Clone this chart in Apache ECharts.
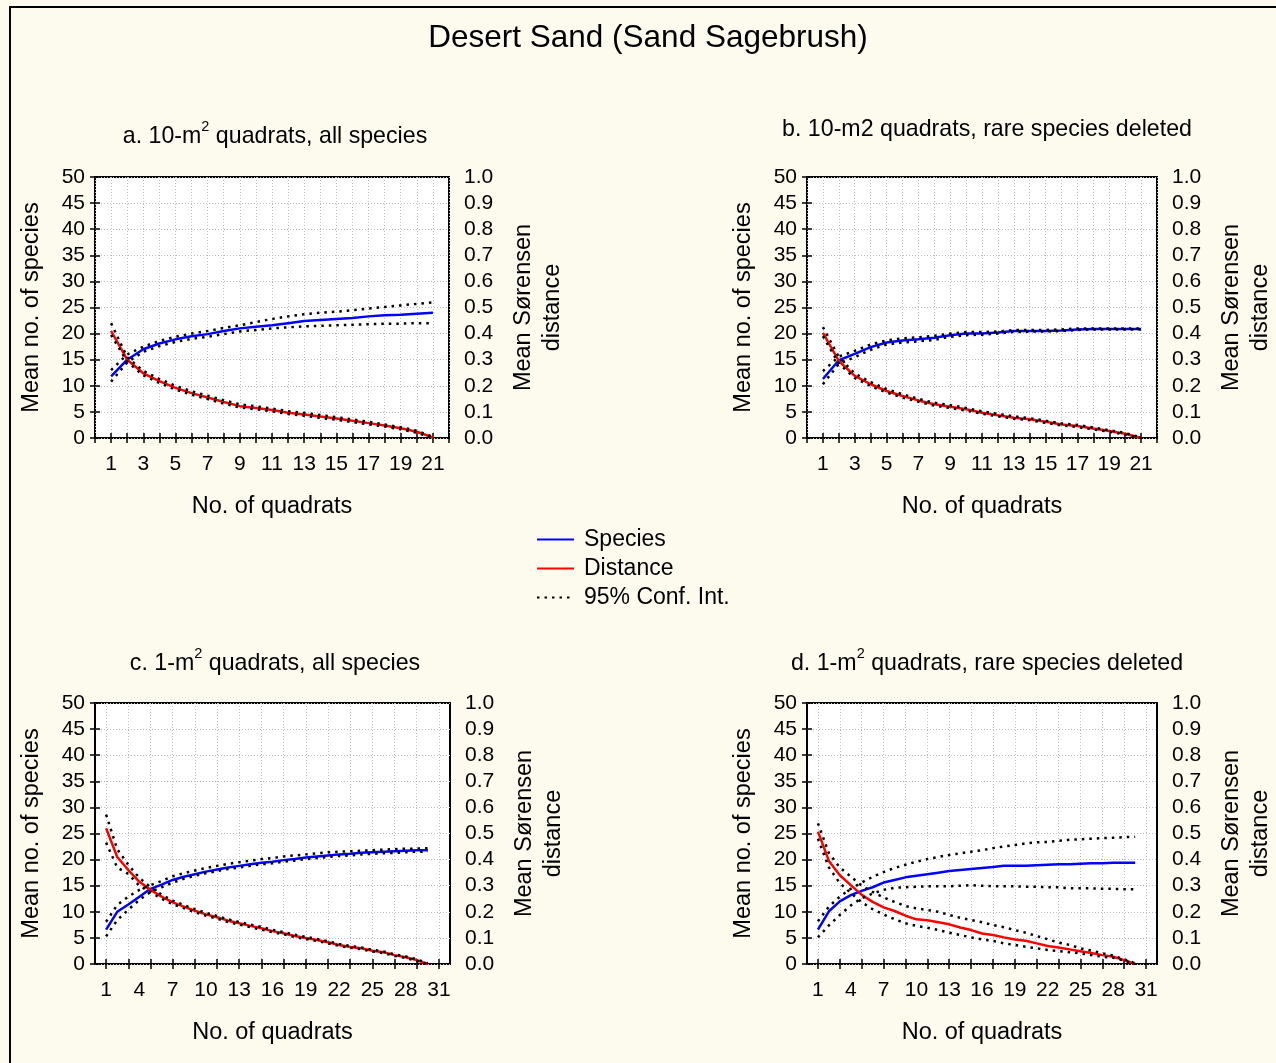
<!DOCTYPE html>
<html><head><meta charset="utf-8">
<script src="https://cdn.jsdelivr.net/npm/echarts@6.0.0/dist/echarts.min.js"></script>
<style>html,body{margin:0;padding:0;background:#FDFAEE;}#chart{width:1276px;height:1063px;}</style>
</head><body><div id="chart"></div>
<script>
// ---------- data ----------
const quadratsAB = [1,2,3,4,5,6,7,8,9,10,11,12,13,14,15,16,17,18,19,20,21];
const quadratsCD = [1,2,3,4,5,6,7,8,9,10,11,12,13,14,15,16,17,18,19,20,21,22,23,24,25,26,27,28,29,30];
const xLabelsAB = [1,3,5,7,9,11,13,15,17,19,21];
const xTicksCD = [1,3,5,7,9,11,13,15,17,19,21,23,25,27,29,31];
const xLabelsCD = [1,4,7,10,13,16,19,22,25,28,31];

// panel a: 10-m2 quadrats, all species
const speciesA  = [11.8,15.0,17.0,18.1,18.9,19.5,19.9,20.5,21.0,21.3,21.6,22.0,22.4,22.6,22.8,23.0,23.3,23.5,23.6,23.8,24.0];
const speciesAU = [13.0,16.0,17.5,18.6,19.4,20.0,20.5,21.1,21.6,22.2,22.8,23.3,23.7,24.0,24.2,24.5,24.8,25.1,25.4,25.7,26.0];
const speciesAL = [10.8,14.5,16.5,17.6,18.4,19.0,19.4,19.9,20.4,20.7,21.0,21.2,21.4,21.5,21.6,21.7,21.8,21.9,21.9,22.0,22.0];
const distA  = [0.41,0.30,0.248,0.218,0.192,0.172,0.155,0.138,0.122,0.115,0.107,0.097,0.09,0.082,0.075,0.066,0.057,0.048,0.037,0.024,0.002];
const distAU = [0.44,0.31,0.257,0.226,0.2,0.179,0.162,0.145,0.129,0.121,0.113,0.103,0.096,0.088,0.08,0.071,0.062,0.052,0.041,0.028,0.004];
const distAL = [0.395,0.292,0.24,0.211,0.186,0.166,0.149,0.132,0.117,0.11,0.102,0.092,0.085,0.077,0.07,0.061,0.052,0.044,0.033,0.02,0.0];

// panel b: 10-m2 quadrats, rare species deleted
const speciesB  = [11.3,14.9,16.1,17.4,18.3,18.7,18.9,19.2,19.7,20.0,20.0,20.2,20.5,20.5,20.5,20.6,20.8,20.9,20.9,20.9,20.9];
const speciesBU = [12.8,15.6,16.7,17.9,18.7,19.1,19.3,19.6,20.0,20.3,20.3,20.4,20.7,20.7,20.7,20.8,21.0,21.0,21.0,21.0,21.0];
const speciesBL = [10.3,14.2,15.5,16.9,17.9,18.3,18.5,18.8,19.4,19.7,19.8,20.0,20.3,20.4,20.4,20.5,20.7,20.8,20.8,20.8,20.8];
const distB  = [0.403,0.295,0.238,0.206,0.18,0.161,0.144,0.129,0.12,0.11,0.097,0.087,0.078,0.072,0.062,0.052,0.046,0.036,0.027,0.016,0.0];
const distBU = [0.425,0.31,0.247,0.214,0.187,0.168,0.15,0.135,0.126,0.115,0.102,0.092,0.083,0.076,0.066,0.056,0.05,0.04,0.03,0.019,0.002];
const distBL = [0.39,0.285,0.23,0.199,0.174,0.155,0.139,0.124,0.115,0.105,0.093,0.083,0.074,0.068,0.058,0.048,0.042,0.033,0.024,0.013,0.0];

// panel c: 1-m2 quadrats, all species
const speciesC  = [6.6,10.0,11.4,12.9,14.4,15.2,16.1,16.7,17.2,17.7,18.1,18.5,18.8,19.1,19.4,19.6,19.9,20.1,20.4,20.6,20.8,21.0,21.1,21.3,21.4,21.5,21.6,21.7,21.8,21.8];
const speciesCU = [8.1,11.3,12.9,14.2,15.1,15.9,16.8,17.4,17.9,18.4,18.8,19.2,19.5,19.8,20.1,20.3,20.6,20.8,21.0,21.2,21.4,21.5,21.6,21.7,21.8,21.9,22.0,22.1,22.1,22.2];
const speciesCL = [5.3,8.4,10.4,12.3,13.8,14.7,15.6,16.3,16.9,17.4,17.8,18.2,18.5,18.8,19.1,19.3,19.6,19.8,20.1,20.3,20.5,20.7,20.8,21.0,21.1,21.2,21.3,21.4,21.5,21.5];
const distC  = [0.52,0.41,0.36,0.315,0.284,0.258,0.236,0.22,0.204,0.19,0.179,0.166,0.156,0.146,0.137,0.126,0.118,0.107,0.1,0.092,0.083,0.073,0.065,0.06,0.051,0.045,0.034,0.026,0.015,0.0];
const distCU = [0.572,0.44,0.38,0.33,0.294,0.266,0.243,0.226,0.21,0.196,0.184,0.171,0.161,0.151,0.142,0.131,0.122,0.112,0.104,0.096,0.087,0.077,0.069,0.063,0.055,0.048,0.037,0.029,0.018,0.003];
const distCL = [0.465,0.37,0.345,0.30,0.275,0.25,0.229,0.214,0.198,0.185,0.174,0.161,0.151,0.141,0.132,0.122,0.114,0.103,0.096,0.088,0.079,0.07,0.062,0.057,0.048,0.042,0.031,0.023,0.012,0.0];

// panel d: 1-m2 quadrats, rare species deleted
const speciesD  = [6.6,10.1,12.0,13.2,14.0,14.7,15.6,16.1,16.6,16.9,17.2,17.5,17.8,18.0,18.2,18.4,18.6,18.8,18.8,18.8,18.9,19.0,19.1,19.1,19.2,19.3,19.3,19.4,19.4,19.4];
const speciesDU = [8.2,11.0,12.9,14.4,15.6,16.7,17.6,18.4,19.0,19.6,20.1,20.5,20.9,21.2,21.5,21.8,22.2,22.5,22.8,23.1,23.3,23.4,23.6,23.8,23.9,24.0,24.1,24.2,24.3,24.4];
const speciesDL = [5.1,7.4,9.4,11.2,12.6,13.5,14.2,14.6,14.7,14.8,14.9,14.9,14.9,15.0,15.1,15.0,14.9,14.9,14.9,14.8,14.8,14.7,14.7,14.5,14.5,14.5,14.4,14.4,14.3,14.3];
const distD  = [0.507,0.395,0.34,0.302,0.265,0.238,0.217,0.203,0.185,0.171,0.168,0.160,0.152,0.140,0.130,0.117,0.111,0.102,0.094,0.089,0.079,0.069,0.063,0.056,0.049,0.042,0.034,0.028,0.015,0.0];
const distDU = [0.539,0.425,0.37,0.335,0.3,0.276,0.255,0.238,0.222,0.213,0.207,0.2,0.188,0.177,0.169,0.16,0.149,0.141,0.13,0.12,0.107,0.095,0.082,0.073,0.06,0.051,0.041,0.032,0.018,0.003];
const distDL = [0.48,0.37,0.31,0.272,0.237,0.21,0.19,0.172,0.156,0.146,0.139,0.13,0.12,0.111,0.102,0.094,0.089,0.079,0.073,0.066,0.06,0.054,0.05,0.045,0.041,0.034,0.028,0.024,0.013,0.0];

const mainTitle = 'Desert Sand (Sand Sagebrush)';
const panelTitles = [
  ['a. 10-m', '2', ' quadrats, all species'],
  ['b. 10-m2 quadrats, rare species deleted'],
  ['c. 1-m', '2', ' quadrats, all species'],
  ['d. 1-m', '2', ' quadrats, rare species deleted']
];

// ---------- layout ----------
const FONT = '"Liberation Sans", Arial, sans-serif';
const grids = [
  {left: 95,  top: 177, width: 354, height: 261},
  {left: 807, top: 177, width: 356, height: 261},
  {left: 95,  top: 703, width: 355, height: 261},
  {left: 807, top: 703, width: 356, height: 261}
];
const titlePos = [[270, 114], [982, 112], [270, 641], [982, 641]];

const panels = [
  {x: quadratsAB, xMax: 22, ticks: null, labels: xLabelsAB, s: speciesA, su: speciesAU, sl: speciesAL, d: distA, du: distAU, dl: distAL},
  {x: quadratsAB, xMax: 22, ticks: null, labels: xLabelsAB, s: speciesB, su: speciesBU, sl: speciesBL, d: distB, du: distBU, dl: distBL},
  {x: quadratsCD, xMax: 32, ticks: xTicksCD, labels: xLabelsCD, s: speciesC, su: speciesCU, sl: speciesCL, d: distC, du: distCU, dl: distCL},
  {x: quadratsCD, xMax: 32, ticks: xTicksCD, labels: xLabelsCD, s: speciesD, su: speciesDU, sl: speciesDL, d: distD, du: distDU, dl: distDL}
];

const tickStyle = {show: true, inside: true, length: 5, lineStyle: {color: '#000', width: 1.5}};
const gridLine = {show: true, lineStyle: {color: '#bdbdbd', type: [1, 2], width: 1}};
const labelStyle = {color: '#000', fontSize: 21, fontFamily: FONT};
const nameStyle = {color: '#000', fontSize: 23.5, fontFamily: FONT};
const dotStyle = {color: '#000', width: 2.5, type: [2.5, 5], cap: 'butt'};

const xAxes = [], yAxes = [], series = [], titles = [];
titles.push({text: mainTitle, left: 643, top: 17, textAlign: 'center',
  textStyle: {fontSize: 31.5, fontWeight: 'normal', color: '#000', fontFamily: FONT}});

const pair = (xs, ys) => xs.map((x, i) => [x, ys[i]]);

panels.forEach((p, k) => {
  const pt = panelTitles[k];
  let txt;
  if (pt.length === 3) txt = '{n|' + pt[0] + '}{s|' + pt[1] + '}{n|' + pt[2] + '}';
  else txt = '{n|' + pt[0] + '}';
  titles.push({text: txt, left: titlePos[k][0], top: titlePos[k][1] + (pt.length === 3 ? 0 : -5), textAlign: 'center',
    textStyle: {fontWeight: 'normal', rich: {
      n: {fontSize: 23.2, fontWeight: 'normal', color: '#000', fontFamily: FONT, lineHeight: 29, verticalAlign: 'bottom'},
      s: {fontSize: 14.5, fontWeight: 'normal', color: '#000', fontFamily: FONT, lineHeight: 14, verticalAlign: 'top'}
    }}});

  const xBase = {type: 'value', gridIndex: k, min: 0, max: p.xMax};
  const tick = Object.assign({}, tickStyle);
  if (p.ticks) tick.customValues = p.ticks; else xBase.interval = 1;
  xAxes.push(Object.assign({}, xBase, {
    position: 'bottom',
    axisLine: {show: false},
    axisTick: tick,
    splitLine: gridLine,
    axisLabel: Object.assign({customValues: p.labels, margin: 16}, labelStyle),
    name: 'No. of quadrats', nameLocation: 'middle', nameGap: 57, nameTextStyle: nameStyle
  }));
  xAxes.push(Object.assign({}, xBase, {
    position: 'top',
    axisLine: {show: false},
    axisTick: tick,
    splitLine: {show: false},
    axisLabel: {show: false}
  }));
  yAxes.push({type: 'value', gridIndex: k, min: 0, max: 50, interval: 5, position: 'left',
    axisLine: {show: false}, axisTick: tickStyle, splitLine: gridLine,
    axisLabel: Object.assign({margin: 10}, labelStyle),
    name: 'Mean no. of species', nameLocation: 'middle', nameRotate: 90, nameGap: 51, nameTextStyle: nameStyle});
  yAxes.push({type: 'value', gridIndex: k, min: 0, max: 1, interval: 0.1, position: 'right',
    axisLine: {show: false}, axisTick: tickStyle, splitLine: {show: false},
    axisLabel: Object.assign({margin: 15, formatter: v => v.toFixed(1)}, labelStyle),
    name: 'Mean Sørensen\ndistance', nameLocation: 'middle', nameRotate: 90, nameGap: 60,
    nameTextStyle: Object.assign({lineHeight: 29}, nameStyle)});

  const xi = 2 * k, yl = 2 * k, yr = 2 * k + 1;
  const base = {type: 'line', xAxisIndex: xi, symbol: 'none', smooth: false, silent: true};
  series.push(Object.assign({}, base, {name: 'Species', yAxisIndex: yl, data: pair(p.x, p.s),
    lineStyle: {color: '#0000ff', width: 2.5}, itemStyle: {color: '#0000ff'}, z: 2}));
  series.push(Object.assign({}, base, {name: 'Distance', yAxisIndex: yr, data: pair(p.x, p.d),
    lineStyle: {color: '#ff0000', width: 2.5}, itemStyle: {color: '#ff0000'}, z: 2}));
  [[yl, p.su], [yl, p.sl], [yr, p.du], [yr, p.dl]].forEach(([ya, arr]) => {
    series.push(Object.assign({}, base, {name: '95% Conf. Int.', yAxisIndex: ya, data: pair(p.x, arr),
      lineStyle: dotStyle, itemStyle: {color: '#000'}, z: 3}));
  });
});

const chart = echarts.init(document.getElementById('chart'), null, {renderer: 'canvas'});
chart.setOption({
  backgroundColor: '#FDFAEE',
  animation: false,
  title: titles,
  grid: grids.map(g => Object.assign({show: true, backgroundColor: '#ffffff', borderColor: '#000', borderWidth: 2}, g)),
  xAxis: xAxes,
  yAxis: yAxes,
  legend: {
    orient: 'vertical', left: 531, top: 523, itemWidth: 37, itemHeight: 14, itemGap: 6,
    data: ['Species', 'Distance', '95% Conf. Int.'],
    itemStyle: {opacity: 0, borderWidth: 0},
    textStyle: {color: '#000', fontSize: 23, fontFamily: FONT, padding: [0, 0, 0, 5]},
    selectedMode: false
  },
  graphic: [
    {type: 'polyline', shape: {points: [[10, 1070], [10, 7], [1290, 7]]}, style: {stroke: '#000', lineWidth: 2, fill: null}, silent: true}
  ],
  series: series
});
</script></body></html>
